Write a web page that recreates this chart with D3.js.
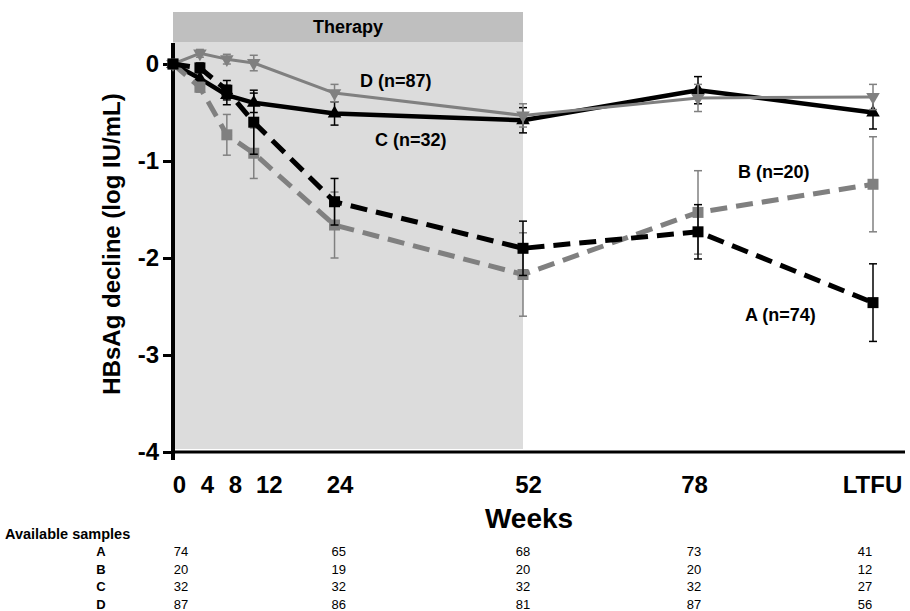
<!DOCTYPE html>
<html>
<head>
<meta charset="utf-8">
<script src="https://cdn.jsdelivr.net/npm/d3@7"></script>
<style>
  html, body { margin: 0; padding: 0; background: #fff; }
  svg { display: block; font-family: "Liberation Sans", Arial, sans-serif; }
</style>
</head>
<body>
<svg id="chart" width="910" height="611"></svg>
<script>
// ---- data ----
const weekValues = [0, 4, 8, 12, 24, 52, 78, 104];
const weekLabels = ["0", "4", "8", "12", "24", "52", "78", "LTFU"];
const yTicks = [0, -1, -2, -3, -4];

const seriesNames = ["A", "B", "C", "D"];
const seriesN = [74, 20, 32, 87];
const valuesA = [0, -0.04, -0.27, -0.60, -1.42, -1.90, -1.73, -2.46];
const errorsA = [0, 0.05, 0.10, 0.33, 0.24, 0.28, 0.28, 0.40];
const valuesB = [0, -0.24, -0.73, -0.92, -1.66, -2.17, -1.53, -1.24];
const errorsB = [0, 0.05, 0.21, 0.26, 0.34, 0.43, 0.43, 0.49];
const valuesC = [0, -0.15, -0.32, -0.40, -0.51, -0.58, -0.27, -0.50];
const errorsC = [0, 0.07, 0.10, 0.10, 0.12, 0.13, 0.14, 0.17];
const valuesD = [0, 0.11, 0.05, 0.01, -0.30, -0.53, -0.35, -0.34];
const errorsD = [0, 0.04, 0.05, 0.08, 0.09, 0.12, 0.14, 0.13];

const therapyEnd = 52;
const sampleWeeks = [0, 24, 52, 78, 104];
const samplesA = [74, 65, 68, 73, 41];
const samplesB = [20, 19, 20, 20, 12];
const samplesC = [32, 32, 32, 32, 27];
const samplesD = [87, 86, 81, 87, 56];

// ---- setup ----
const svg = d3.select("#chart");
const x = d3.scaleLinear().domain([0, 104]).range([173, 873]);
const y = d3.scaleLinear().domain([-4, 0]).range([452, 64]);
const xTable = d3.scaleLinear().domain([0, 104]).range([181, 865]);

const GRAY = "#808080";

// therapy shading
svg.append("rect")
  .attr("x", x(0)).attr("y", 42)
  .attr("width", x(therapyEnd) - x(0)).attr("height", 449 - 42)
  .attr("fill", "#dcdcdc");
svg.append("rect")
  .attr("x", x(0)).attr("y", 12)
  .attr("width", x(therapyEnd) - x(0)).attr("height", 30)
  .attr("fill", "#bfbfbf");
svg.append("text")
  .attr("x", (x(0) + x(therapyEnd)) / 2).attr("y", 33)
  .attr("text-anchor", "middle")
  .attr("font-size", 18).attr("font-weight", "bold")
  .text("Therapy");

// axes
svg.append("line")
  .attr("x1", x(0)).attr("x2", 905)
  .attr("y1", y(-4)).attr("y2", y(-4))
  .attr("stroke", "#000").attr("stroke-width", 3);
svg.append("line")
  .attr("x1", x(0)).attr("x2", x(0))
  .attr("y1", 43).attr("y2", y(-4) + 8)
  .attr("stroke", "#000").attr("stroke-width", 4);

const yAxis = svg.append("g")
  .attr("transform", `translate(${x(0)},0)`)
  .call(d3.axisLeft(y).tickValues(yTicks).tickSize(10).tickPadding(4).tickFormat(d3.format("d")));
yAxis.select(".domain").remove();
yAxis.selectAll(".tick line").attr("stroke", "#000").attr("stroke-width", 3);
yAxis.selectAll(".tick text")
  .attr("font-size", 24).attr("font-weight", "bold")
  .attr("font-family", "Liberation Sans, Arial, sans-serif")
  .attr("fill", "#000")
  .text(d => d === 0 ? "0" : "-" + Math.abs(d));

const labelNudge = { "4": 7, "8": 8, "12": 15, "24": 5, "52": 5, "78": -4, "LTFU": -1 };
const xAxis = svg.append("g")
  .attr("transform", `translate(0,${y(-4)})`)
  .call(d3.axisBottom(x).tickValues(weekValues).tickSize(0).tickPadding(0)
    .tickFormat((d, i) => weekLabels[i]));
xAxis.select(".domain").remove();
xAxis.selectAll(".tick text")
  .attr("font-size", 24).attr("font-weight", "bold")
  .attr("font-family", "Liberation Sans, Arial, sans-serif")
  .attr("fill", "#000")
  .attr("y", 41).attr("dy", 0)
  .attr("dx", (d, i) => (labelNudge[weekLabels[i]] || 6));

svg.append("text")
  .attr("x", 529).attr("y", 528)
  .attr("text-anchor", "middle")
  .attr("font-size", 28).attr("font-weight", "bold")
  .text("Weeks");

svg.append("text")
  .attr("transform", "translate(120,244) rotate(-90)")
  .attr("text-anchor", "middle")
  .attr("font-size", 24).attr("font-weight", "bold")
  .text("HBsAg decline (log IU/mL)");

// series
const series = [
  { name: "C", vals: valuesC, errs: errorsC, color: "#000", width: 4.5, dash: null, sym: "up" },
  { name: "D", vals: valuesD, errs: errorsD, color: GRAY, width: 3, dash: null, sym: "down" },
  { name: "B", vals: valuesB, errs: errorsB, color: GRAY, width: 5, dash: "17,9", sym: "square" },
  { name: "A", vals: valuesA, errs: errorsA, color: "#000", width: 5, dash: "17,9", sym: "square" }
];

const line = d3.line().x(d => x(d.w)).y(d => y(d.v));

series.forEach(s => {
  const pts = weekValues.map((w, i) => ({ w, v: s.vals[i], e: s.errs[i] }));
  const g = svg.append("g");
  // error bars
  const eb = g.selectAll(".eb").data(pts.filter(p => p.e > 0)).enter().append("g");
  eb.append("line")
    .attr("x1", p => x(p.w)).attr("x2", p => x(p.w))
    .attr("y1", p => y(p.v - p.e)).attr("y2", p => y(p.v + p.e))
    .attr("stroke", s.color).attr("stroke-width", 1.5);
  [-1, 1].forEach(sg => {
    eb.append("line")
      .attr("x1", p => x(p.w) - 4).attr("x2", p => x(p.w) + 4)
      .attr("y1", p => y(p.v + sg * p.e)).attr("y2", p => y(p.v + sg * p.e))
      .attr("stroke", s.color).attr("stroke-width", 1.5);
  });
  // line
  g.append("path")
    .attr("d", line(pts))
    .attr("fill", "none")
    .attr("stroke", s.color)
    .attr("stroke-width", s.width)
    .attr("stroke-dasharray", s.dash)
    .attr("stroke-linejoin", "round");
  // markers
  const symType = s.sym === "square" ? d3.symbolSquare : d3.symbolTriangle;
  const symSize = s.sym === "square" ? 121 : 80;
  g.selectAll(".m").data(pts).enter().append("path")
    .attr("d", d3.symbol().type(symType).size(symSize))
    .attr("transform", p => `translate(${x(p.w)},${y(p.v)})` + (s.sym === "down" ? " rotate(180)" : ""))
    .attr("fill", s.color);
});

// series labels
const labelPos = {
  D: [360, 87], C: [375, 146], B: [738, 178], A: [745, 321]
};
seriesNames.forEach((n, i) => {
  svg.append("text")
    .attr("x", labelPos[n][0]).attr("y", labelPos[n][1])
    .attr("font-size", 18).attr("font-weight", "bold")
    .text(`${n} (n=${seriesN[i]})`);
});

// table
svg.append("text")
  .attr("x", 5).attr("y", 539)
  .attr("font-size", 14.5).attr("font-weight", "bold")
  .text("Available samples");
const sampleRows = [samplesA, samplesB, samplesC, samplesD];
seriesNames.forEach((n, r) => {
  const by = 556 + r * 17.5;
  svg.append("text")
    .attr("x", 101).attr("y", by)
    .attr("text-anchor", "middle")
    .attr("font-size", 13).attr("font-weight", "bold")
    .text(n);
  sampleRows[r].forEach((v, c) => {
    svg.append("text")
      .attr("x", xTable(sampleWeeks[c])).attr("y", by)
      .attr("text-anchor", "middle")
      .attr("font-size", 13)
      .text(v);
  });
});
</script>
</body>
</html>
